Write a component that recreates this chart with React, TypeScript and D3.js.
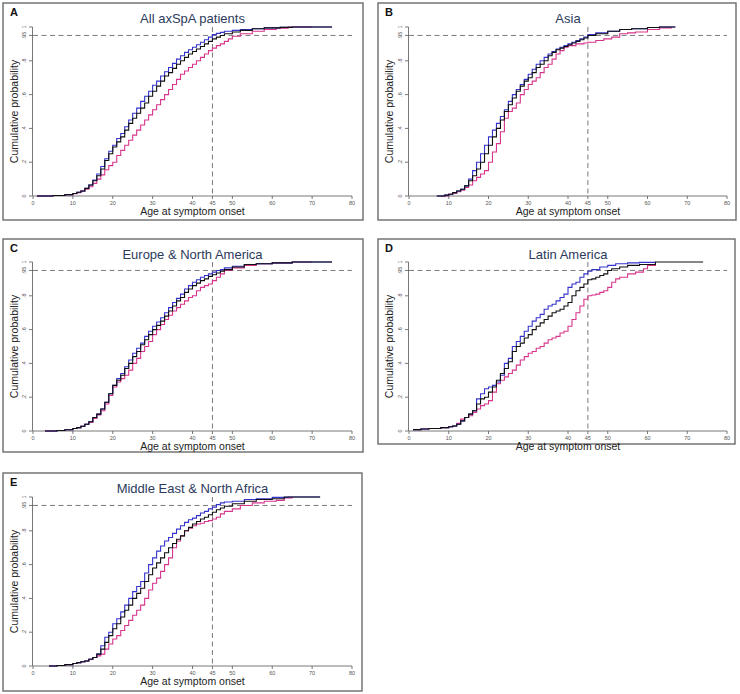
import React from "react";
import * as d3 from "d3";

type Pt = [number, number];

// ---------- data (age, cumulative probability) ----------
const allBlue: Pt[] = [[1,0],[5,0.003],[8,0.008],[10,0.015],[11,0.022],[12,0.03],[13,0.045],[14,0.065],[15,0.095],[16,0.13],[17,0.175],[18,0.22],[19,0.265],[20,0.3],[21,0.34],[22,0.37],[23,0.41],[24,0.45],[25,0.49],[26,0.52],[27,0.56],[28,0.59],[29,0.62],[30,0.655],[31,0.68],[32,0.71],[33,0.735],[34,0.76],[35,0.785],[36,0.81],[37,0.83],[38,0.85],[39,0.865],[40,0.88],[41,0.895],[42,0.91],[43,0.925],[44,0.94],[45,0.955],[46,0.962],[47,0.968],[48,0.975],[50,0.98],[52,0.985],[55,0.99],[58,0.995],[62,0.998],[65,1],[75,1]];
const allBlack: Pt[] = [[1,0],[5,0.003],[8,0.008],[10,0.015],[11,0.022],[12,0.03],[13,0.045],[14,0.065],[15,0.09],[16,0.12],[17,0.16],[18,0.21],[19,0.25],[20,0.29],[21,0.32],[22,0.35],[23,0.39],[24,0.43],[25,0.46],[26,0.49],[27,0.52],[28,0.55],[29,0.59],[30,0.62],[31,0.65],[32,0.68],[33,0.71],[34,0.73],[35,0.755],[36,0.78],[37,0.8],[38,0.82],[39,0.84],[40,0.855],[41,0.87],[42,0.885],[43,0.9],[44,0.915],[45,0.93],[46,0.94],[47,0.95],[48,0.96],[50,0.97],[52,0.98],[55,0.99],[58,0.995],[62,0.998],[65,1],[75,1]];
const allPink: Pt[] = [[1,0],[5,0.003],[8,0.007],[10,0.013],[11,0.02],[12,0.028],[13,0.04],[14,0.055],[15,0.075],[16,0.1],[17,0.125],[18,0.155],[19,0.18],[20,0.2],[21,0.24],[22,0.27],[23,0.3],[24,0.33],[25,0.36],[26,0.39],[27,0.42],[28,0.45],[29,0.48],[30,0.51],[31,0.54],[32,0.57],[33,0.6],[34,0.63],[35,0.66],[36,0.69],[37,0.72],[38,0.74],[39,0.76],[40,0.78],[41,0.8],[42,0.82],[43,0.84],[44,0.86],[45,0.875],[46,0.89],[47,0.9],[48,0.915],[49,0.93],[50,0.945],[52,0.96],[55,0.975],[58,0.985],[61,0.993],[64,1],[70,1]];

const asiaBlue: Pt[] = [[7,0],[9,0.005],[10,0.01],[11,0.02],[12,0.03],[13,0.04],[14,0.06],[15,0.1],[16,0.15],[17,0.2],[18,0.25],[19,0.3],[20,0.35],[21,0.39],[22,0.43],[23,0.47],[24,0.51],[25,0.56],[26,0.6],[27,0.63],[28,0.66],[29,0.69],[30,0.72],[31,0.75],[32,0.78],[33,0.8],[34,0.82],[35,0.84],[36,0.855],[37,0.87],[38,0.88],[39,0.89],[40,0.9],[41,0.91],[42,0.92],[43,0.93],[44,0.94],[45,0.955],[47,0.965],[50,0.975],[53,0.985],[56,0.99],[60,0.997],[63,1],[67,1]];
const asiaBlack: Pt[] = [[7,0],[9,0.005],[10,0.01],[11,0.02],[12,0.03],[13,0.04],[14,0.06],[15,0.09],[16,0.12],[17,0.16],[18,0.2],[19,0.25],[20,0.3],[21,0.35],[22,0.4],[23,0.45],[24,0.5],[25,0.54],[26,0.58],[27,0.62],[28,0.65],[29,0.68],[30,0.7],[31,0.73],[32,0.76],[33,0.78],[34,0.8],[35,0.83],[36,0.85],[37,0.865],[38,0.875],[39,0.885],[40,0.895],[41,0.905],[42,0.915],[43,0.925],[44,0.935],[45,0.95],[47,0.96],[50,0.975],[53,0.985],[56,0.99],[60,0.997],[63,1],[67,1]];
const asiaPink: Pt[] = [[8,0],[10,0.01],[11,0.015],[12,0.025],[13,0.035],[14,0.05],[15,0.065],[16,0.09],[17,0.11],[18,0.13],[19,0.15],[20,0.2],[21,0.26],[22,0.31],[23,0.38],[24,0.46],[25,0.5],[26,0.52],[27,0.55],[28,0.6],[29,0.63],[30,0.66],[31,0.68],[32,0.7],[33,0.73],[34,0.76],[35,0.78],[36,0.81],[37,0.84],[38,0.86],[39,0.88],[40,0.89],[42,0.9],[44,0.905],[45,0.91],[47,0.92],[49,0.93],[51,0.94],[53,0.96],[55,0.965],[57,0.97],[60,0.985],[63,0.995],[66,1]];

const eunaBlue: Pt[] = [[3,0],[6,0.003],[8,0.007],[10,0.015],[11,0.02],[12,0.028],[13,0.04],[14,0.055],[15,0.08],[16,0.1],[17,0.13],[18,0.17],[19,0.22],[20,0.27],[21,0.31],[22,0.34],[23,0.38],[24,0.42],[25,0.46],[26,0.49],[27,0.52],[28,0.56],[29,0.59],[30,0.62],[31,0.645],[32,0.67],[33,0.7],[34,0.73],[35,0.76],[36,0.785],[37,0.81],[38,0.84],[39,0.86],[40,0.88],[41,0.895],[42,0.91],[43,0.92],[44,0.93],[45,0.94],[46,0.95],[47,0.955],[48,0.965],[50,0.975],[53,0.985],[56,0.99],[60,0.995],[65,1],[75,1]];
const eunaBlack: Pt[] = [[3,0],[6,0.003],[8,0.007],[10,0.015],[11,0.02],[12,0.028],[13,0.04],[14,0.055],[15,0.08],[16,0.1],[17,0.13],[18,0.17],[19,0.22],[20,0.27],[21,0.3],[22,0.33],[23,0.37],[24,0.4],[25,0.44],[26,0.47],[27,0.51],[28,0.54],[29,0.57],[30,0.6],[31,0.625],[32,0.65],[33,0.68],[34,0.71],[35,0.74],[36,0.77],[37,0.79],[38,0.82],[39,0.84],[40,0.86],[41,0.875],[42,0.89],[43,0.9],[44,0.915],[45,0.925],[46,0.935],[47,0.945],[48,0.955],[50,0.97],[53,0.985],[56,0.99],[60,0.995],[65,1],[75,1]];
const eunaPink: Pt[] = [[3,0],[6,0.003],[8,0.007],[10,0.015],[11,0.02],[12,0.028],[13,0.04],[14,0.05],[15,0.075],[16,0.095],[17,0.12],[18,0.16],[19,0.21],[20,0.26],[21,0.29],[22,0.31],[23,0.33],[24,0.36],[25,0.4],[26,0.43],[27,0.47],[28,0.5],[29,0.53],[30,0.57],[31,0.6],[32,0.63],[33,0.66],[34,0.685],[35,0.71],[36,0.73],[37,0.75],[38,0.77],[39,0.79],[40,0.8],[41,0.83],[42,0.85],[43,0.86],[44,0.87],[45,0.89],[46,0.91],[47,0.93],[48,0.95],[50,0.965],[53,0.98],[56,0.99],[60,0.995],[65,1],[70,1]];

const latBlue: Pt[] = [[1,0.008],[3,0.012],[5,0.015],[8,0.02],[10,0.025],[11,0.03],[12,0.04],[13,0.06],[14,0.08],[15,0.1],[16,0.12],[17,0.19],[18,0.22],[19,0.25],[20,0.26],[21,0.27],[22,0.29],[23,0.33],[24,0.4],[25,0.43],[26,0.5],[27,0.53],[28,0.56],[29,0.59],[30,0.62],[31,0.65],[32,0.67],[33,0.69],[34,0.72],[35,0.74],[36,0.75],[37,0.77],[38,0.79],[39,0.81],[40,0.85],[41,0.87],[42,0.88],[43,0.91],[44,0.93],[45,0.945],[46,0.955],[48,0.97],[50,0.98],[52,0.99],[55,0.995],[58,0.998],[62,1]];
const latBlack: Pt[] = [[1,0.008],[3,0.012],[5,0.015],[8,0.02],[10,0.025],[11,0.03],[12,0.04],[13,0.06],[14,0.08],[15,0.1],[16,0.12],[17,0.16],[18,0.19],[19,0.2],[20,0.23],[21,0.26],[22,0.3],[23,0.34],[24,0.37],[25,0.41],[26,0.47],[27,0.5],[28,0.52],[29,0.55],[30,0.57],[31,0.6],[32,0.62],[33,0.64],[34,0.66],[35,0.68],[36,0.7],[37,0.71],[38,0.72],[39,0.74],[40,0.76],[41,0.8],[42,0.83],[43,0.85],[44,0.87],[45,0.895],[46,0.9],[47,0.91],[48,0.92],[49,0.93],[50,0.95],[51,0.96],[53,0.97],[55,0.98],[58,0.985],[62,1],[74,1]];
const latPink: Pt[] = [[1,0.008],[3,0.012],[5,0.015],[8,0.02],[10,0.025],[11,0.03],[12,0.045],[13,0.07],[14,0.08],[15,0.09],[16,0.11],[17,0.13],[18,0.15],[19,0.16],[20,0.18],[21,0.23],[22,0.28],[23,0.3],[24,0.32],[25,0.34],[26,0.36],[27,0.39],[28,0.42],[29,0.44],[30,0.46],[31,0.47],[32,0.49],[33,0.5],[34,0.52],[35,0.54],[36,0.55],[37,0.56],[38,0.58],[39,0.59],[40,0.62],[41,0.66],[42,0.7],[43,0.74],[44,0.78],[45,0.8],[46,0.805],[47,0.81],[48,0.82],[49,0.83],[50,0.85],[51,0.88],[52,0.9],[53,0.91],[55,0.93],[57,0.94],[59,0.96],[60,0.98],[62,1]];

const menaBlue: Pt[] = [[4,0],[6,0.003],[8,0.008],[10,0.015],[11,0.02],[12,0.025],[13,0.03],[14,0.04],[15,0.05],[16,0.07],[17,0.12],[18,0.17],[19,0.2],[20,0.25],[21,0.28],[22,0.32],[23,0.36],[24,0.4],[25,0.44],[26,0.47],[27,0.5],[28,0.55],[29,0.6],[30,0.64],[31,0.68],[32,0.71],[33,0.74],[34,0.76],[35,0.785],[36,0.81],[37,0.83],[38,0.85],[39,0.865],[40,0.875],[41,0.89],[42,0.905],[43,0.915],[44,0.93],[45,0.94],[46,0.955],[47,0.965],[48,0.97],[50,0.975],[53,0.985],[56,0.99],[60,0.998],[64,1],[72,1]];
const menaBlack: Pt[] = [[4,0],[6,0.003],[8,0.008],[10,0.015],[11,0.02],[12,0.025],[13,0.03],[14,0.04],[15,0.05],[16,0.07],[17,0.1],[18,0.14],[19,0.18],[20,0.22],[21,0.25],[22,0.29],[23,0.33],[24,0.36],[25,0.4],[26,0.43],[27,0.46],[28,0.5],[29,0.54],[30,0.58],[31,0.61],[32,0.64],[33,0.67],[34,0.7],[35,0.725],[36,0.75],[37,0.77],[38,0.8],[39,0.82],[40,0.84],[41,0.855],[42,0.87],[43,0.88],[44,0.895],[45,0.91],[46,0.925],[47,0.935],[48,0.945],[50,0.96],[53,0.975],[56,0.985],[60,0.99],[63,1],[72,1]];
const menaPink: Pt[] = [[4,0],[6,0.003],[8,0.008],[10,0.015],[11,0.02],[12,0.025],[13,0.03],[14,0.04],[15,0.05],[16,0.06],[17,0.07],[18,0.1],[19,0.13],[20,0.16],[21,0.18],[22,0.21],[23,0.24],[24,0.27],[25,0.3],[26,0.33],[27,0.36],[28,0.4],[29,0.45],[30,0.49],[31,0.52],[32,0.56],[33,0.6],[34,0.64],[35,0.7],[36,0.74],[37,0.77],[38,0.8],[39,0.815],[40,0.83],[41,0.84],[42,0.845],[43,0.855],[44,0.86],[45,0.87],[46,0.88],[47,0.9],[48,0.915],[50,0.93],[52,0.95],[55,0.965],[58,0.975],[61,0.98],[63,0.995],[65,1]];

const panelLetters = ["A", "B", "C", "D", "E"];
const panelTitles = ["All axSpA patients", "Asia", "Europe & North America", "Latin America", "Middle East & North Africa"];
const blueSeries = [allBlue, asiaBlue, eunaBlue, latBlue, menaBlue];
const blackSeries = [allBlack, asiaBlack, eunaBlack, latBlack, menaBlack];
const pinkSeries = [allPink, asiaPink, eunaPink, latPink, menaPink];

const xTicks = [0, 10, 20, 30, 40, 45, 50, 60, 70, 80];
const yTicks = [0, 0.2, 0.4, 0.6, 0.8, 0.95, 1];
const yTickLabels = ["0", ".2", ".4", ".6", ".8", ".95", "1"];
const xLabel = "Age at symptom onset";
const yLabel = "Cumulative probability";

// ---------- layout ----------
const frames = [
  { x0: 3, y0: 3, x1: 363, y1: 220, px0: 33, px1: 352, py0: 196, py1: 27 },
  { x0: 378, y0: 3, x1: 736, y1: 220, px0: 409, px1: 727, py0: 196, py1: 27 },
  { x0: 3, y0: 239, x1: 363, y1: 452, px0: 33, px1: 352, py0: 431, py1: 262 },
  { x0: 378, y0: 239, x1: 735, y1: 444, px0: 409, px1: 727, py0: 431, py1: 262 },
  { x0: 3, y0: 473, x1: 362, y1: 691, px0: 33, px1: 352, py0: 666, py1: 497 },
];

const FONT = "'Liberation Sans', Arial, Helvetica, sans-serif";
const BLUE = "#3434cc";
const PINK = "#d8348c";
const BLACK = "#111111";
const GRAY = "#7a7a7a";

function Panel({ i }: { i: number }) {
  const f = frames[i];
  const x = d3.scaleLinear().domain([0, 80]).range([f.px0, f.px1]);
  const y = d3.scaleLinear().domain([0, 1]).range([f.py0, f.py1]);
  const line = d3
    .line<Pt>()
    .x((d) => x(d[0]))
    .y((d) => y(d[1]))
    .curve(d3.curveStepAfter);
  const cx = (f.px0 + f.px1) / 2;
  const cy = (f.py0 + f.py1) / 2;
  return (
    <g>
      <rect x={f.x0} y={f.y0} width={f.x1 - f.x0} height={f.y1 - f.y0} fill="white" stroke="#6b6b6b" strokeWidth={1.4} />
      <text x={f.x0 + 7} y={f.y0 + 13} fontFamily={FONT} fontWeight="bold" fontSize={11} fill="#111">
        {panelLetters[i]}
      </text>
      <text x={cx} y={f.y0 + 20} textAnchor="middle" fontFamily={FONT} fontSize={13} fill="#2c3a5c">
        {panelTitles[i]}
      </text>
      {/* reference lines */}
      <line x1={x(0)} x2={x(80)} y1={y(0.95)} y2={y(0.95)} stroke={GRAY} strokeWidth={1} strokeDasharray="5,3.5" />
      <line x1={x(45)} x2={x(45)} y1={y(1)} y2={y(0)} stroke={GRAY} strokeWidth={1} strokeDasharray="5,3.5" />
      {/* axes */}
      <line x1={x(0)} x2={x(80)} y1={y(0)} y2={y(0)} stroke="#555" strokeWidth={0.8} />
      {xTicks.map((t) => (
        <g key={"x" + t}>
          <line x1={x(t)} x2={x(t)} y1={y(0)} y2={y(0) + 3} stroke="#555" strokeWidth={0.8} />
          <text x={x(t)} y={y(0) + 8.5} textAnchor="middle" fontFamily={FONT} fontSize={5.5} fill="#555">
            {t}
          </text>
        </g>
      ))}
      <line x1={x(0) - 0.5} x2={x(0) - 0.5} y1={y(0)} y2={y(1)} stroke="#555" strokeWidth={0.8} />
      {yTicks.map((t, k) => (
        <g key={"y" + t}>
          <line x1={x(0) - 0.5} x2={x(0) - 4} y1={y(t)} y2={y(t)} stroke="#555" strokeWidth={0.8} />
          <text
            transform={`translate(${x(0) - 7},${y(t)}) rotate(-90)`}
            textAnchor="middle"
            fontFamily={FONT}
            fontSize={5.5}
            fill="#555"
          >
            {yTickLabels[k]}
          </text>
        </g>
      ))}
      <text x={cx} y={f.py0 + 19} textAnchor="middle" fontFamily={FONT} fontSize={10.5} fill="#222">
        {xLabel}
      </text>
      <text
        transform={`translate(${f.x0 + 15},${cy}) rotate(-90)`}
        textAnchor="middle"
        fontFamily={FONT}
        fontSize={10.5}
        fill="#222"
      >
        {yLabel}
      </text>
      {/* curves */}
      <path d={line(pinkSeries[i]) || ""} fill="none" stroke={PINK} strokeWidth={1.1} />
      <path d={line(blueSeries[i]) || ""} fill="none" stroke={BLUE} strokeWidth={1.1} />
      <path d={line(blackSeries[i]) || ""} fill="none" stroke={BLACK} strokeWidth={1.1} />
    </g>
  );
}

export default function App() {
  return (
    <svg width={740} height={694} style={{ position: "absolute", left: 0, top: 0, background: "white" }}>
      <rect x={0} y={0} width={740} height={694} fill="white" />
      {frames.map((_, i) => (
        <Panel key={i} i={i} />
      ))}
    </svg>
  );
}
